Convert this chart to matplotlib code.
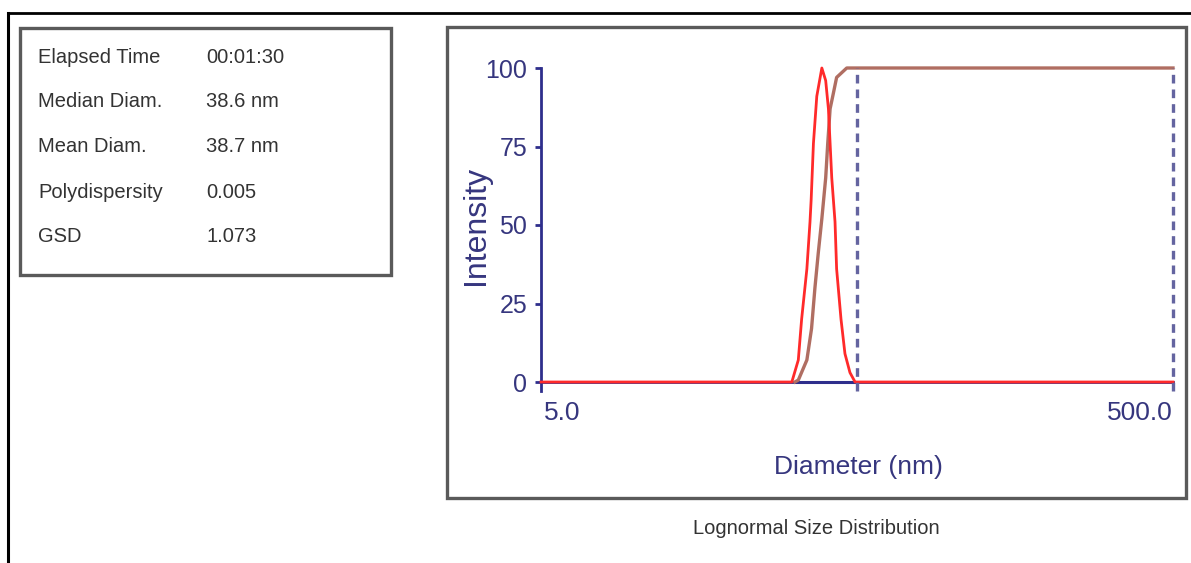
import matplotlib
matplotlib.use('Agg')
import matplotlib.pyplot as plt
from matplotlib.patches import Rectangle
from matplotlib.lines import Line2D

# ── Measurement summary ──
STAT_NAMES = ["Elapsed Time", "Median Diam.", "Mean Diam.", "Polydispersity", "GSD"]
STAT_VALUES = ["00:01:30", "38.6 nm", "38.7 nm", "0.005", "1.073"]

# ── Intensity distribution (diameter nm, relative intensity) ──
DIST_DIAM = [5.0, 31.1, 32.6, 33.4, 34.7, 35.5, 35.8, 36.4, 37.3, 38.7, 39.8,
             40.6, 41.1, 41.6, 42.6, 43.1, 44.5, 45.8, 47.5, 49.3, 500.0]
DIST_INT = [0, 0, 7, 20, 36, 51, 58, 76, 91, 100, 96,
            87, 76, 65, 51, 36, 20, 9, 3, 0, 0]

# ── Cumulative distribution ──
CUM_DIAM = [31.8, 32.6, 34.7, 35.9, 36.8, 37.7, 38.7, 39.8, 40.4, 41.1,
            42.1, 43.1, 46.4, 500.0]
CUM_INT = [0, 0.6, 7, 17, 30, 41, 52, 65, 76, 87, 92, 97, 100, 100]

BASE_RANGE = [31.8, 49.3]      # stretch of the zero line left bare by the peak
MARKERS = [50.0, 500.0]        # dashed range markers
X_RANGE = [5.0, 500.0]
X_LABELS = ["5.0", "500.0"]
Y_TICKS = [0, 25, 50, 75, 100]

W, H = 1191, 563
NAVY = '#2e2e8c'
LABEL_C = '#36367e'
plt.rcParams['font.family'] = ['Liberation Sans', 'DejaVu Sans']


def fx(px):
    return px / W


def fy(py):
    return 1 - py / H


fig = plt.figure(figsize=(W / 100, H / 100), dpi=100)
fig.patch.set_facecolor('white')

# outer frame lines
fig.add_artist(Line2D([fx(8), 1], [fy(13), fy(13)], color='black', lw=2))
fig.add_artist(Line2D([fx(8), fx(8)], [fy(13), 0], color='black', lw=2.2))

# boxes
for x0, y0, x1, y1 in [(20, 28, 391, 275), (447, 27, 1186, 498)]:
    fig.add_artist(Rectangle((fx(x0), fy(y1)), fx(x1 - x0), (y1 - y0) / H,
                             fill=False, ec='#5a5a5a', lw=2.4))

# stats text
row_y = [58, 102, 147, 192, 237]
for name, val, yy in zip(STAT_NAMES, STAT_VALUES, row_y):
    fig.text(fx(38), fy(yy), name, fontsize=14.5, color='#333333', va='center', ha='left')
    fig.text(fx(206), fy(yy), val, fontsize=14.5, color='#333333', va='center', ha='left')

# plot area
ax = fig.add_axes([fx(541), fy(382), fx(1173 - 541), (382 - 68) / H])
ax.set_xscale('log')
ax.set_xlim(*X_RANGE)
ax.set_ylim(0, 100)
for s in ['top', 'right']:
    ax.spines[s].set_visible(False)
for s in ['left', 'bottom']:
    ax.spines[s].set_color(NAVY)
    ax.spines[s].set_linewidth(2)

ax.plot(BASE_RANGE, [0, 0], color=NAVY, lw=2.2, clip_on=False, zorder=2)
ax.plot(CUM_DIAM, CUM_INT, color='#b06e62', lw=2.4, clip_on=False, zorder=3)
ax.plot(DIST_DIAM, DIST_INT, color='#ff2a2a', lw=2, clip_on=False, zorder=4)
for m in MARKERS:
    ax.plot([m, m], [-3, 100], color='#6464a0', lw=2.4, ls=(0, (2.6, 1.8)),
            clip_on=False, zorder=5)
ax.plot([X_RANGE[0], X_RANGE[0]], [-3, 0], color=NAVY, lw=2, clip_on=False)

ax.set_yticks(Y_TICKS)
ax.set_yticklabels([str(t) for t in Y_TICKS])
ax.tick_params(axis='y', length=4, width=2, color=NAVY, labelcolor=LABEL_C,
               labelsize=18, pad=6)
ax.set_xticks([])
ax.xaxis.set_minor_locator(matplotlib.ticker.NullLocator())

ax.text(0.005, -0.1, X_LABELS[0], transform=ax.transAxes, ha='left', va='center',
        fontsize=19, color=LABEL_C)
ax.text(1, -0.1, X_LABELS[1], transform=ax.transAxes, ha='right', va='center',
        fontsize=19, color=LABEL_C)

fig.text(fx(476), fy(225), "Intensity", rotation=90, ha='center', va='center',
         fontsize=23, color=LABEL_C)
fig.text(fx(858), fy(467), "Diameter (nm)", ha='center', va='center',
         fontsize=19, color=LABEL_C)
fig.text(fx(816), fy(528), "Lognormal Size Distribution", ha='center', va='center',
         fontsize=14.5, color='#333333')

fig.savefig('out.png', dpi=100)
